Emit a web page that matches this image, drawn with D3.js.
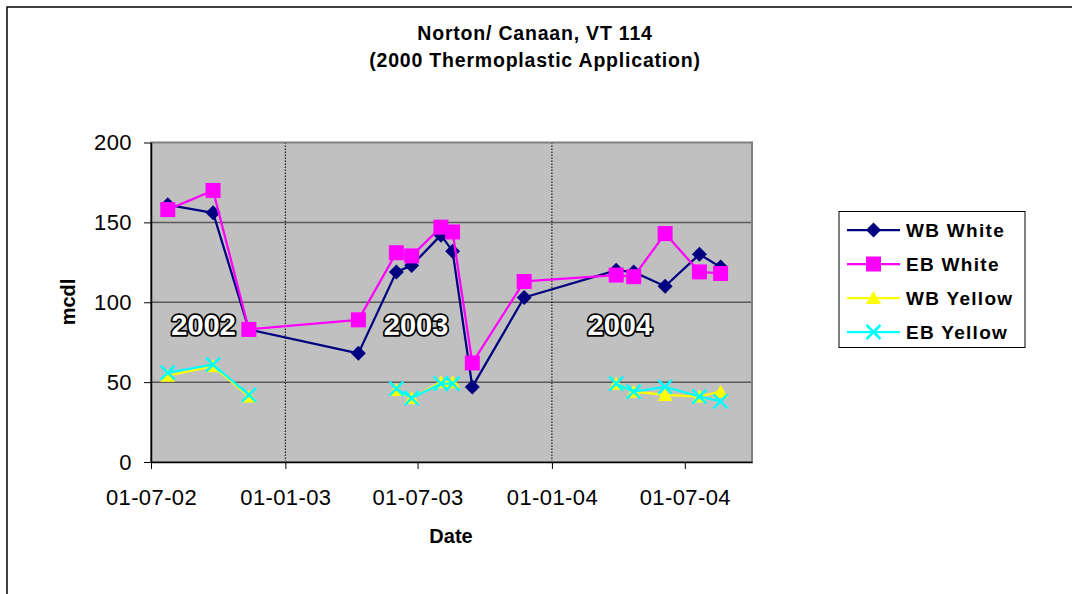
<!DOCTYPE html>
<html>
<head>
<meta charset="utf-8">
<script src="https://cdn.jsdelivr.net/npm/d3@7"></script>
<style>
  body { margin: 0; background: #fff; }
  svg { display: block; font-family: "Liberation Sans", Arial, sans-serif; }
</style>
</head>
<body>
<svg id="chart" width="1072" height="594"></svg>
<script>
// Survey dates (dd-mm-yy on the axis)
const dates = [
  "2002-07-24", "2002-09-24", "2002-11-12", "2003-04-11", "2003-06-02",
  "2003-06-23", "2003-08-02", "2003-08-18", "2003-09-14", "2003-11-24",
  "2004-03-29", "2004-04-22", "2004-06-04", "2004-07-21", "2004-08-19"
];
const wbWhite = [161, 156, 83, 68, 119, 123, 142, 132, 47, 103, 120, 119, 110, 130, 122];
const ebWhite = [158, 170, 83, 89, 131, 129, 147, 144, 62, 113, 117, 116, 143, 119, 118];
// yellow readings were not taken on every date (null = blank cell, line breaks)
const wbYellow = [54, 60, 41, null, 45, 40, 50, 50, null, null, 49, 44, 42, 41, 44];
const ebYellow = [56, 61, 42, null, 46, 40, 49, 49, null, null, 49, 44, 47, 41, 38];

const yTicks = [0, 50, 100, 150, 200];
const xTicks = ["2002-07-01", "2003-01-01", "2003-07-01", "2004-01-01", "2004-07-01"];
const yearBreaks = ["2003-01-01", "2004-01-01"];
const yearLabels = [
  { text: "2002", date: "2002-09-11", value: 86 },
  { text: "2003", date: "2003-06-29", value: 86 },
  { text: "2004", date: "2004-04-03", value: 86 }
];
const xDomain = ["2002-07-01", "2004-10-01"];
const titleLines = ["Norton/ Canaan, VT 114", "(2000 Thermoplastic Application)"];

const CONFIG = {
  plot: { left: 151, right: 752, top: 142.5, bottom: 462 },
  plotFill: "#c0c0c0",
  gridColor: "#5a5a5a",
  lineWidth: 2.25
};

const parse = d3.timeParse("%Y-%m-%d");

const series = [
  { name: "WB White", color: "#000080", marker: "diamond", values: wbWhite },
  { name: "EB White", color: "#ff00ff", marker: "square", values: ebWhite },
  { name: "WB Yellow", color: "#ffff00", marker: "triangle", values: wbYellow },
  { name: "EB Yellow", color: "#00ffff", marker: "cross", values: ebYellow }
];

function drawMarker(g, type, color) {
  if (type === "diamond") {
    g.append("path").attr("d", "M0,-7.5L7.5,0L0,7.5L-7.5,0Z").attr("fill", color);
  } else if (type === "square") {
    g.append("rect").attr("x", -7.5).attr("y", -7.5).attr("width", 15).attr("height", 15).attr("fill", color);
  } else if (type === "triangle") {
    g.append("path").attr("d", "M0,-7L7.5,6L-7.5,6Z").attr("fill", color);
  } else {
    g.append("path")
      .attr("d", "M-7,-7L7,7M7,-7L-7,7")
      .attr("stroke", color)
      .attr("stroke-width", 2.5)
      .attr("fill", "none");
  }
}

function drawChart() {
  const svg = d3.select("#chart");
  const p = CONFIG.plot;

  // outer chart border (right/bottom edges fall off the picture)
  svg.append("rect")
    .attr("x", 7).attr("y", 7).attr("width", 1100).attr("height", 620)
    .attr("fill", "#fff").attr("stroke", "#000").attr("stroke-width", 1.5);

  const x = d3.scaleTime().domain(xDomain.map(parse)).range([p.left, p.right]);
  const y = d3.scaleLinear().domain([0, 200]).range([p.bottom, p.top]);

  // title
  svg.append("text")
    .attr("text-anchor", "middle")
    .style("font-size", "19.5px").style("font-weight", "bold").style("letter-spacing", "0.8px")
    .selectAll("tspan")
    .data(titleLines)
    .join("tspan")
    .attr("x", 535)
    .attr("y", (d, i) => 40 + i * 27)
    .text(d => d);

  // plot area
  svg.append("rect")
    .attr("x", p.left).attr("y", p.top)
    .attr("width", p.right - p.left).attr("height", p.bottom - p.top)
    .attr("fill", CONFIG.plotFill);

  svg.append("g")
    .selectAll("line")
    .data(yTicks.filter(d => d > 0 && d < 200))
    .join("line")
    .attr("x1", p.left).attr("x2", p.right)
    .attr("y1", d => y(d)).attr("y2", d => y(d))
    .attr("stroke", CONFIG.gridColor).attr("stroke-width", 1.5);

  svg.append("g")
    .selectAll("line")
    .data(yearBreaks)
    .join("line")
    .attr("x1", d => x(parse(d))).attr("x2", d => x(parse(d)))
    .attr("y1", p.top).attr("y2", p.bottom)
    .attr("stroke", "#000").attr("stroke-width", 1).attr("stroke-dasharray", "1.5,1.5");

  svg.append("rect")
    .attr("x", p.left).attr("y", p.top)
    .attr("width", p.right - p.left).attr("height", p.bottom - p.top)
    .attr("fill", "none").attr("stroke", "#808080").attr("stroke-width", 2);

  // axes
  const yAxis = svg.append("g")
    .attr("transform", `translate(${p.left},0)`)
    .call(d3.axisLeft(y).tickValues(yTicks).tickSize(7).tickPadding(12).tickSizeOuter(0));
  const xAxis = svg.append("g")
    .attr("transform", `translate(0,${p.bottom})`)
    .call(d3.axisBottom(x).tickValues(xTicks.map(parse)).tickFormat(d3.timeFormat("%d-%m-%y"))
      .tickSize(7).tickPadding(20).tickSizeOuter(0));
  [yAxis, xAxis].forEach(a => {
    a.select(".domain").attr("stroke", "#000").attr("stroke-width", 1.5);
    a.selectAll(".tick line").attr("stroke", "#000");
    a.selectAll("text")
      .attr("fill", "#000")
      .style("font-size", "22px")
      .style("letter-spacing", "0.4px")
      .style("font-family", "'Liberation Sans', Arial, sans-serif");
  });

  svg.append("text")
    .attr("x", 451).attr("y", 543)
    .attr("text-anchor", "middle")
    .style("font-size", "20px").style("font-weight", "bold")
    .text("Date");
  svg.append("text")
    .attr("transform", "translate(75,302) rotate(-90)")
    .attr("text-anchor", "middle")
    .style("font-size", "20px").style("font-weight", "bold")
    .text("mcdl");

  // year annotations (white with black outline)
  svg.append("g")
    .selectAll("text")
    .data(yearLabels)
    .join("text")
    .attr("x", d => x(parse(d.date)))
    .attr("y", d => y(d.value))
    .attr("dy", "0.36em")
    .attr("text-anchor", "middle")
    .attr("fill", "#fff").attr("stroke", "#000").attr("stroke-width", 3.5)
    .attr("paint-order", "stroke").attr("stroke-linejoin", "round")
    .style("font-size", "29px")
    .style("font-weight", "bold")
    .text(d => d.text);

  // series, drawn one after another so later ones sit on top
  const line = d3.line()
    .defined(d => d.value != null)
    .x(d => x(d.date))
    .y(d => y(d.value));
  series.forEach(s => {
    const pts = s.values.map((v, i) => ({ date: parse(dates[i]), value: v }));
    const g = svg.append("g");
    g.append("path")
      .datum(pts)
      .attr("d", line)
      .attr("fill", "none")
      .attr("stroke", s.color)
      .attr("stroke-width", CONFIG.lineWidth)
      .attr("stroke-linejoin", "round");
    g.selectAll("g")
      .data(pts.filter(d => d.value != null))
      .join("g")
      .attr("transform", d => `translate(${x(d.date)},${y(d.value)})`)
      .each(function () { drawMarker(d3.select(this), s.marker, s.color); });
  });

  // legend
  const lg = svg.append("g");
  lg.append("rect")
    .attr("x", 839).attr("y", 211.5).attr("width", 186).attr("height", 136)
    .attr("fill", "#fff").attr("stroke", "#000").attr("stroke-width", 1);
  const rows = lg.selectAll("g.row")
    .data(series)
    .join("g")
    .attr("class", "row")
    .attr("transform", (d, i) => `translate(0,${230 + i * 34})`);
  rows.append("line")
    .attr("x1", 847).attr("x2", 900)
    .attr("stroke", d => d.color).attr("stroke-width", CONFIG.lineWidth);
  rows.append("g")
    .attr("transform", "translate(873.5,0)")
    .each(function (d) { drawMarker(d3.select(this), d.marker, d.color); });
  rows.append("text")
    .attr("x", 906).attr("dy", "0.36em")
    .style("font-size", "19px").style("font-weight", "bold").style("letter-spacing", "1.3px")
    .text(d => d.name);
}

drawChart();
</script>
</body>
</html>
